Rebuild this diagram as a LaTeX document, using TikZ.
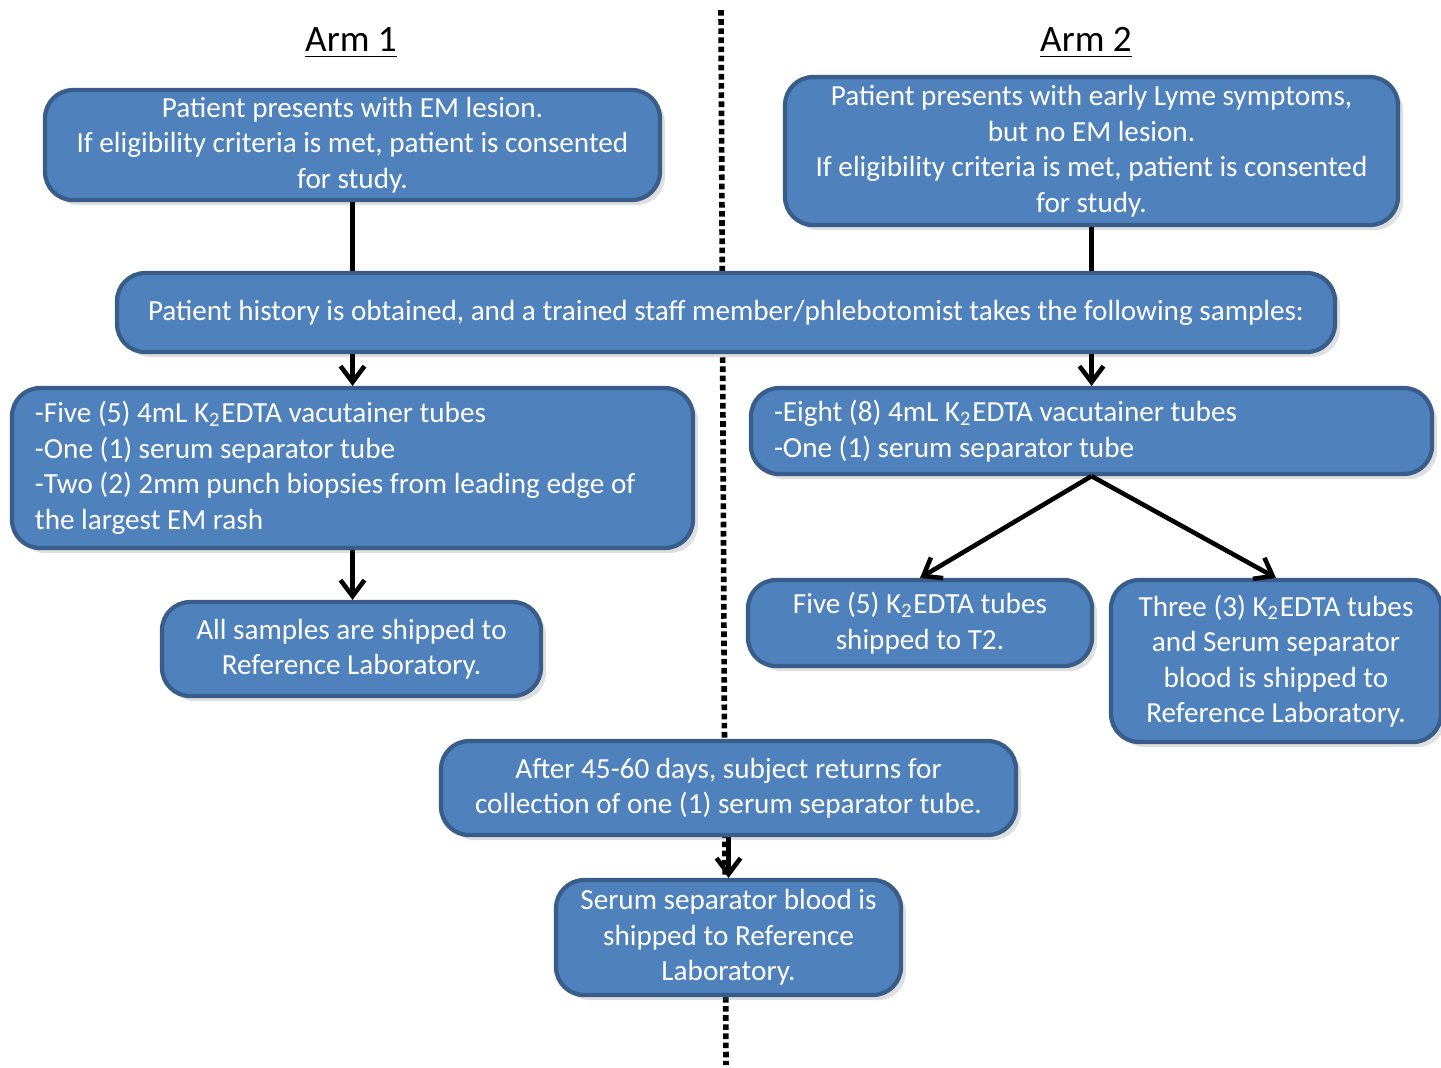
\documentclass[tikz,border=0pt]{standalone}
\usepackage{fontspec}
\setmainfont{Carlito}
\usetikzlibrary{arrows.meta, positioning, shadows}

\definecolor{boxblue}{HTML}{4F81BD}
\definecolor{boxedge}{HTML}{385D8A}

\begin{document}
\begin{tikzpicture}[
    box/.style={draw=boxedge, line width=1.2pt, fill=boxblue, rounded corners=8pt,
                text=white, align=center, inner sep=2pt,
                font=\fontsize{8.3}{10.1}\selectfont,
                drop shadow={opacity=0.25, shadow xshift=0.5mm, shadow yshift=-0.5mm}},
    title/.style={font=\fontsize{10.6}{12}\selectfont},
    link/.style={line width=1.3pt},
    >={Straight Barb[length=1.6mm, width=2.4mm, line width=1.3pt]}
  ]
  \useasboundingbox (0,0) rectangle (14.41,-10.67);

  % Divider between the arms
  \coordinate (top) at (7.21,-0.10);
  \coordinate (bottom) at (7.26,-10.65);
  \draw[densely dotted, line width=1.6pt] (top) -- (bottom);

  % Arm titles
  \node[title] (arm1) at (3.51,-0.43) {\underline{Arm 1}};
  \node[title] (arm2) at (10.86,-0.43) {\underline{Arm 2}};

  % Enrolment
  \node[box, minimum width=6.15cm, minimum height=1.10cm] (enrol1) at (3.525,-1.45)
    {Patient presents with EM lesion.\\
     If eligibility criteria is met, patient is consented\\ for study.};
  \node[box, minimum width=6.13cm, minimum height=1.48cm] (enrol2) at (10.915,-1.51)
    {Patient presents with early Lyme symptoms,\\ but no EM lesion.\\
     If eligibility criteria is met, patient is consented\\ for study.};

  % Shared step
  \node[box, minimum width=12.18cm, minimum height=0.79cm] (history) at (7.26,-3.125)
    {Patient history is obtained, and a trained staff member/phlebotomist takes the following samples:};

  % Samples
  \node[box, align=flush left, text width=6.35cm, inner xsep=0.23cm,
        minimum height=1.60cm] (samples1) at (3.525,-4.68)
    {-Five (5) 4mL K\textsubscript{2}EDTA vacutainer tubes\\
     -One (1) serum separator tube\\
     -Two (2) 2mm punch biopsies from leading edge of\\ the largest EM rash};
  \node[box, align=flush left, text width=6.35cm, inner xsep=0.23cm,
        minimum height=0.86cm] (samples2) at (10.915,-4.31)
    {-Eight (8) 4mL K\textsubscript{2}EDTA vacutainer tubes\\
     -One (1) serum separator tube};

  % Shipping
  \node[box, minimum width=3.79cm, minimum height=0.94cm] (ship1) at (3.515,-6.49)
    {All samples are shipped to\\ Reference Laboratory.};
  \node[box, minimum width=3.44cm, minimum height=0.86cm] (shipT2) at (9.20,-6.23)
    {Five (5) K\textsubscript{2}EDTA tubes\\ shipped to T2.};
  \node[box, minimum width=3.30cm, minimum height=1.62cm] (shipref) at (12.76,-6.61)
    {Three (3) K\textsubscript{2}EDTA tubes\\ and Serum separator\\
     blood is shipped to\\ Reference Laboratory.};

  % Follow-up
  \node[box, minimum width=5.75cm, minimum height=0.94cm] (follow) at (7.285,-7.88)
    {After 45-60 days, subject returns for\\
     collection of one (1) serum separator tube.};
  \node[box, minimum width=3.45cm, minimum height=1.15cm] (serum) at (7.285,-9.375)
    {Serum separator blood is\\ shipped to Reference\\ Laboratory.};

  % Connectors
  \draw[link] (enrol1.south) -- (enrol1.south |- history.north);
  \draw[link] (enrol2.south) -- (enrol2.south |- history.north);
  \draw[link, ->] (history.south -| samples1) -- (samples1.north);
  \draw[link, ->] (history.south -| samples2) -- (samples2.north);
  \draw[link, ->] (samples1.south) -- (ship1.north -| samples1);
  \draw[link, ->] (samples2.south) -- (shipT2.north);
  \draw[link, ->] (samples2.south) -- (shipref.north);
  \draw[link, ->] (follow.south) -- (serum.north);
\end{tikzpicture}
\end{document}
